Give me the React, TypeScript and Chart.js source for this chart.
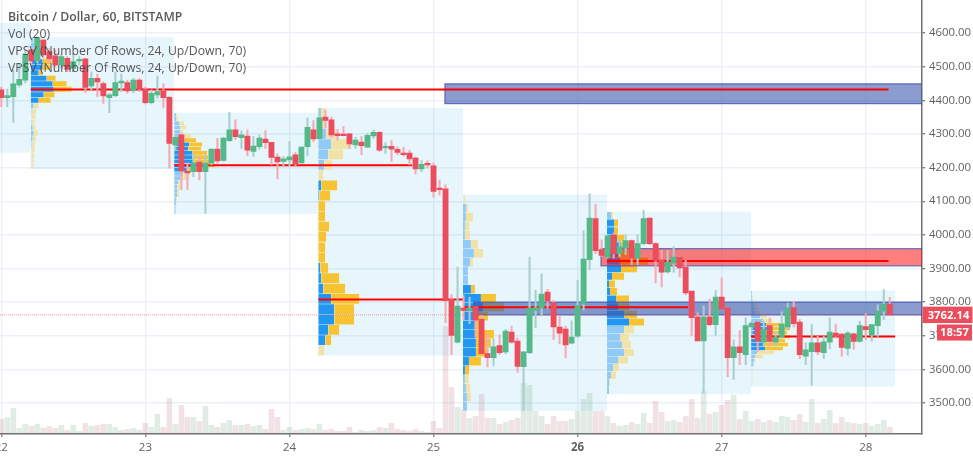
import React, { useEffect, useRef } from "react";
import { Chart, registerables } from "chart.js";

Chart.register(...registerables);

const opens = [
  4431, 4408, 4411, 4446, 4460, 4550, 4517, 4579, 4545, 4532,
  4505, 4525, 4495, 4517, 4523, 4443, 4465, 4450, 4408, 4414,
  4452, 4453, 4429, 4460, 4433, 4393, 4416, 4428, 4409, 4267,
  4297, 4189, 4188, 4216, 4188, 4213, 4255, 4221, 4280, 4312,
  4289, 4294, 4248, 4262, 4285, 4275, 4231, 4218, 4223, 4238,
  4214, 4262, 4312, 4286, 4350, 4342, 4300, 4297, 4300, 4267,
  4276, 4261, 4294, 4305, 4259, 4263, 4254, 4243, 4243, 4228,
  4196, 4211, 4205, 4139, 4137, 3808, 3681, 3782, 3775, 3787,
  3749, 3647, 3635, 3671, 3652, 3711, 3684, 3608, 3650, 3775,
  3783, 3830, 3798, 3726, 3720, 3678, 3699, 3795, 3926, 4048,
  3956, 3934, 4000, 3944, 3961, 3983, 3931, 3974, 4050, 3974,
  3926, 3890, 3916, 3934, 3904, 3833, 3756, 3685, 3756, 3733,
  3815, 3783, 3635, 3667, 3644, 3726, 3741, 3681, 3730, 3681,
  3696, 3726, 3784, 3741, 3639, 3653, 3679, 3650, 3681, 3708,
  3705, 3662, 3706, 3683, 3727, 3702, 3730, 3773, 3794,
];
const closes = [
  4408, 4414, 4449, 4462, 4537, 4517, 4586, 4535, 4523, 4505,
  4530, 4492, 4515, 4520, 4438, 4465, 4455, 4413, 4416, 4453,
  4457, 4428, 4460, 4433, 4393, 4421, 4426, 4408, 4272, 4290,
  4190, 4184, 4214, 4188, 4213, 4254, 4220, 4288, 4312, 4292,
  4297, 4252, 4264, 4288, 4274, 4230, 4217, 4226, 4232, 4211,
  4261, 4320, 4285, 4348, 4340, 4297, 4295, 4295, 4270, 4282,
  4265, 4296, 4305, 4252, 4263, 4255, 4245, 4238, 4226, 4196,
  4210, 4208, 4129, 4134, 3804, 3701, 3788, 3775, 3783, 3746,
  3647, 3635, 3667, 3650, 3714, 3681, 3609, 3652, 3782, 3783,
  3824, 3803, 3726, 3708, 3673, 3696, 3790, 3928, 4050, 3953,
  3939, 3997, 3944, 3964, 3983, 3931, 3974, 4048, 3974, 3924,
  3889, 3919, 3934, 3902, 3827, 3754, 3685, 3756, 3733, 3815,
  3780, 3635, 3667, 3650, 3730, 3738, 3684, 3720, 3683, 3696,
  3735, 3783, 3736, 3644, 3658, 3679, 3652, 3682, 3711, 3698,
  3665, 3708, 3683, 3730, 3718, 3733, 3773, 3794, 3762.14,
];
const highs = [
  4439, 4433, 4490, 4510, 4550, 4554, 4589, 4581, 4554, 4550,
  4535, 4530, 4535, 4530, 4525, 4485, 4478, 4455, 4421, 4485,
  4478, 4460, 4465, 4465, 4439, 4431, 4472, 4449, 4411, 4297,
  4302, 4213, 4243, 4233, 4238, 4257, 4287, 4290, 4364, 4342,
  4309, 4312, 4292, 4297, 4310, 4275, 4241, 4233, 4277, 4245,
  4261, 4347, 4340, 4376, 4371, 4350, 4314, 4322, 4302, 4290,
  4292, 4302, 4312, 4307, 4274, 4280, 4262, 4260, 4251, 4231,
  4221, 4220, 4213, 4163, 4149, 3822, 3904, 3820, 3815, 3787,
  3761, 3703, 3691, 3703, 3719, 3729, 3693, 3652, 3934, 3835,
  3884, 3838, 3805, 3759, 3729, 3744, 3865, 4012, 4122, 4091,
  3985, 4000, 4005, 3985, 4000, 3985, 4000, 4073, 4050, 3976,
  3954, 3954, 3964, 3936, 3924, 3833, 3768, 3789, 3809, 3834,
  3872, 3783, 3688, 3716, 3753, 3743, 3743, 3743, 3753, 3713,
  3771, 3797, 3802, 3748, 3679, 3733, 3698, 3698, 3753, 3735,
  3706, 3713, 3708, 3743, 3766, 3733, 3792, 3837, 3814,
];
const lows = [
  4381, 4381, 4334, 4439, 4452, 4505, 4510, 4525, 4512, 4500,
  4495, 4485, 4485, 4505, 4423, 4431, 4411, 4391, 4363, 4411,
  4426, 4421, 4423, 4426, 4389, 4389, 4406, 4379, 4198, 4252,
  4134, 4134, 4173, 4163, 4064, 4208, 4213, 4218, 4277, 4284,
  4257, 4235, 4233, 4254, 4257, 4208, 4166, 4206, 4205, 4203,
  4213, 4235, 4277, 4282, 4317, 4290, 4282, 4294, 4257, 4257,
  4238, 4260, 4287, 4248, 4241, 4218, 4238, 4235, 4208, 4181,
  4188, 4198, 4112, 4119, 3738, 3644, 3679, 3746, 3736, 3696,
  3647, 3607, 3610, 3644, 3647, 3678, 3592, 3478, 3647, 3724,
  3759, 3782, 3688, 3676, 3635, 3676, 3696, 3777, 3896, 3944,
  3936, 3931, 3931, 3936, 3941, 3911, 3911, 3971, 3971, 3857,
  3845, 3886, 3888, 3875, 3822, 3701, 3684, 3530, 3730, 3701,
  3780, 3578, 3570, 3614, 3614, 3708, 3654, 3669, 3669, 3669,
  3693, 3718, 3726, 3632, 3614, 3552, 3644, 3632, 3661, 3693,
  3639, 3642, 3659, 3681, 3688, 3684, 3698, 3748, 3760,
];
const volumes = [
  43, 48, 76, 16, 28, 22, 28, 16, 22, 16,
  25, 10, 25, 7, 31, 22, 25, 28, 28, 19,
  10, 13, 16, 10, 31, 19, 58, 19, 106, 28,
  85, 49, 49, 37, 82, 25, 19, 31, 40, 25,
  25, 28, 22, 25, 13, 73, 49, 10, 19, 10,
  13, 16, 13, 28, 10, 13, 7, 7, 19, 4,
  10, 7, 10, 19, 16, 31, 13, 10, 7, 13,
  7, 4, 37, 16, 322, 139, 79, 72, 46, 52,
  118, 46, 46, 28, 34, 40, 46, 151, 145, 67,
  52, 28, 52, 37, 37, 43, 67, 103, 121, 67,
  68, 51, 31, 22, 25, 34, 28, 61, 31, 97,
  64, 37, 40, 34, 52, 103, 46, 126, 58, 64,
  85, 100, 115, 43, 67, 37, 43, 34, 40, 34,
  52, 49, 40, 58, 34, 103, 31, 43, 70, 31,
  49, 34, 31, 28, 31, 22, 28, 40, 19,
];

// Session boxes: start hour, end hour, top price, bottom price
const boxStarts = [-1, 4.9, 28.8, 52.8, 76.9, 100.9, 124.9];
const boxEnds = [4.9, 28.8, 52.8, 76.9, 100.9, 124.9, 148.9];
const boxTops = [4630, 4588, 4363, 4377, 4119, 4069, 3834];
const boxBottoms = [4244, 4196, 4062, 3641, 3477, 3526, 3549];

// Volume profiles (24 rows, top to bottom)
const profileBoxes = [1, 2, 3, 4, 5, 6];
const profileUp = [
  [3, 4, 5, 6, 12, 12, 8, 16, 22, 23, 13, 8, 3, 1, 0.5, 1, 2, 3, 2, 1, 0.5, 0.5, 0.5, 0.5],
  [2, 2, 5, 6, 6, 8, 10, 15, 14, 18, 18, 20, 20, 14, 9, 6, 4, 3, 3, 3, 2, 2, 1.5, 1.5],
  [3, 3, 8, 13, 10, 6, 0, 3, 1, 0, 0, 0, 0, 0, 0, 2, 3, 5, 13, 16, 16, 10, 7, 0],
  [0.5, 3, 3, 2, 2, 8, 11, 7, 5, 5, 8, 18, 20, 14, 12, 13, 13, 13, 6, 2, 2, 3, 4, 4],
  [4, 7, 7, 10, 14, 11, 13, 14, 5, 2, 3, 9, 11, 17, 22, 17, 13, 15, 17, 11, 6, 4, 2, 2],
  [1, 1, 1.5, 2.5, 3, 4, 9, 12, 15, 17, 11, 14, 12, 12, 14, 6, 4, 3, 2.5, 0.5, 0.5, 0.5, 0.5, 0.5],
];
const profileDown = [
  [2, 3, 4, 5, 9, 8, 4, 9, 14, 18, 11, 12, 5, 4.5, 4.5, 3, 3, 4.5, 3.5, 3.5, 3.5, 3, 2.5, 2.5],
  [1, 2, 5, 6, 3, 9, 12, 13, 13, 15, 16, 17, 21, 10, 7, 9, 4, 4, 2, 2, 1, 0.5, 0.5, 0],
  [4, 4, 10, 20, 15, 8, 5, 16, 11, 7, 7, 11, 8, 7, 7, 8, 18, 22, 28, 20, 20, 11, 6, 6],
  [1.5, 2, 7, 4.5, 5, 7, 9, 3, 0, 0, 4, 15, 21, 11, 8, 18, 15, 11, 12, 4.5, 4, 4.5, 4, 0],
  [2, 4, 4, 7, 8, 10, 28, 16, 12, 6, 7, 13, 11, 13, 15, 10, 9, 9, 10, 10, 6, 5, 1, 0],
  [0, 1, 1, 3, 4, 5, 7, 10, 18, 22, 25, 25, 22, 25, 18, 17, 8, 1.5, 1, 1, 1, 1, 1, 1],
];
const valueAreaFirst = [4, 6, 7, 10, 1, 8];
const valueAreaLast = [11, 13, 22, 19, 14, 14];

// Point-of-control lines
const pocPrices = [4432, 4207, 3808, 3785, 3922, 3698];
const pocStarts = [4.9, 28.8, 52.8, 76.9, 100.9, 124.9];
const pocEnds = [147.8, 68.4, 76.9, 114.4, 147.8, 148.9];

// Drawn zones
const zoneStarts = [73.9, 78.7, 99.9];
const zoneTops = [4449, 3800, 3959];
const zoneBottoms = [4390, 3762, 3908];
const zoneFills = ["rgba(55,85,170,0.58)", "rgba(55,85,170,0.58)", "rgba(255,0,0,0.5)"];

const dayHours = [0, 24, 48, 72, 96, 120, 144];
const dayLabels = ["22", "23", "24", "25", "26", "27", "28"];
const boldDay = "26";
const legendLines = [
  "Bitcoin / Dollar, 60, BITSTAMP",
  "Vol (20)",
  "VPSV (Number Of Rows, 24, Up/Down, 70)",
  "VPSV (Number Of Rows, 24, Up/Down, 70)",
];
const lastPrice = 3762.14;
const countdown = "18:57";

const FONT = '"Open Sans", sans-serif';
const X_MIN = -0.217;
const X_MAX = 153.37;
const UP = "#53b987";
const DOWN = "#eb4d5c";
const HOURS_PER_UNIT = 1 / 6.003;

const rect = (x0: number, x1: number, hi: number, lo: number, color: string) => ({
  type: "line",
  data: [{ x: x0, y: hi }, { x: x1, y: hi }],
  fill: { value: lo },
  backgroundColor: color,
  borderWidth: 0,
  borderColor: "transparent",
  pointRadius: 0,
  yAxisID: "y",
});
const path = (pts: { x: number; y: number }[], color: string, width: number, dash?: number[]) => ({
  type: "line",
  data: pts,
  fill: false,
  borderColor: color,
  borderWidth: width,
  borderDash: dash || [],
  pointRadius: 0,
  yAxisID: "y",
});

function buildDatasets() {
  const layers: any[] = [];
  boxStarts.forEach((s, i) => layers.push(rect(s, boxEnds[i], boxTops[i], boxBottoms[i], "rgba(40,160,225,0.11)")));
  const idx = opens.map((_, i) => i);
  layers.push({
    type: "bar",
    yAxisID: "vol",
    data: idx.map((h) => ({ x: h, y: volumes[h] })),
    backgroundColor: idx.map((h) => (closes[h] >= opens[h] ? "rgba(107,165,120,0.2)" : "rgba(178,100,112,0.18)")),
    barThickness: 5,
    grouped: false,
  });
  profileBoxes.forEach((b, p) => {
    const top = boxTops[b];
    const rowH = (boxTops[b] - boxBottoms[b]) / 24;
    profileUp[p].forEach((u, r) => {
      const d = profileDown[p][r];
      const bright = r >= valueAreaFirst[p] && r <= valueAreaLast[p];
      const hi = top - rowH * r - 0.8;
      const lo = top - rowH * (r + 1) + 0.8;
      const x0 = boxStarts[b];
      const xu = x0 + u * HOURS_PER_UNIT;
      const xd = xu + d * HOURS_PER_UNIT;
      if (u > 0) layers.push(rect(x0, xu, hi, lo, bright ? "#2196f3" : "#90caf9"));
      if (d > 0) layers.push(rect(xu, xd, hi, lo, bright ? "#f8c330" : "#f1e2a6"));
    });
  });
  zoneStarts.forEach((s, i) => {
    layers.push(rect(s, X_MAX, zoneTops[i], zoneBottoms[i], zoneFills[i]));
    layers.push(
      path(
        [
          { x: X_MAX, y: zoneTops[i] },
          { x: s, y: zoneTops[i] },
          { x: s, y: zoneBottoms[i] },
          { x: X_MAX, y: zoneBottoms[i] },
        ],
        "rgba(63,81,181,0.75)",
        1.3,
      ),
    );
  });
  pocPrices.forEach((p, i) =>
    layers.push(path([{ x: pocStarts[i], y: p }, { x: pocEnds[i], y: p }], "#ff0000", 2)),
  );
  layers.push(path([{ x: X_MIN, y: lastPrice }, { x: X_MAX, y: lastPrice }], "rgba(235,77,92,0.55)", 1, [1, 1]));
  layers.push({
    type: "bar",
    yAxisID: "y",
    data: idx.map((h) => ({ x: h, y: [lows[h], highs[h]] })),
    backgroundColor: idx.map((h) => (closes[h] >= opens[h] ? "#a8cfd0" : "#f6a9b2")),
    barThickness: 1.4,
    grouped: false,
  });
  layers.push({
    type: "bar",
    yAxisID: "y",
    data: idx.map((h) => ({ x: h, y: [opens[h], closes[h]] })),
    backgroundColor: idx.map((h) => (closes[h] >= opens[h] ? UP : DOWN)),
    barThickness: 5.2,
    grouped: false,
    minBarLength: 1.5,
  });
  return layers.reverse();
}

const overlayPlugin = {
  id: "overlayText",
  afterDraw(chart: any) {
    const { ctx, scales } = chart;
    ctx.save();
    ctx.textAlign = "left";
    ctx.textBaseline = "alphabetic";
    legendLines.forEach((line, i) => {
      ctx.font = `${i === 0 ? "600" : "400"} 12.25px ${FONT}`;
      ctx.fillStyle = "rgba(74,74,74,0.92)";
      ctx.fillText(line, 8, 20.5 + i * 17.1);
    });
    const yMid = scales.y.getPixelForValue(lastPrice);
    ctx.fillStyle = DOWN;
    ctx.fillRect(922.5, yMid - 8.2, 50, 16.4);
    ctx.fillRect(937, yMid + 9.7, 35, 16);
    ctx.fillStyle = "#fff";
    ctx.font = `700 11.2px ${FONT}`;
    ctx.textAlign = "center";
    ctx.textBaseline = "middle";
    ctx.fillText(lastPrice.toFixed(2), 948.5, yMid + 0.5);
    ctx.fillText(countdown, 954.5, yMid + 18);
    ctx.restore();
  },
};

export default function App() {
  const ref = useRef<HTMLCanvasElement | null>(null);
  useEffect(() => {
    const chart = new Chart(ref.current as HTMLCanvasElement, {
      data: { datasets: buildDatasets() as any },
      plugins: [overlayPlugin],
      options: {
        animation: false,
        responsive: false,
        events: [],
        layout: { padding: 0 },
        plugins: { legend: { display: false }, tooltip: { enabled: false } },
        scales: {
          x: {
            type: "linear",
            min: X_MIN,
            max: X_MAX,
            offset: false,
            afterBuildTicks: (s: any) => {
              s.ticks = dayHours.map((v) => ({ value: v }));
            },
            afterFit: (s: any) => {
              s.height = 25.3;
              s.paddingLeft = 0;
              s.paddingRight = 0;
            },
            grid: { offset: false, color: "#edf1f7", lineWidth: 1.4, tickColor: "#777", tickLength: 3 },
            border: { color: "#707070", width: 1.5 },
            ticks: {
              autoSkip: false,
              maxRotation: 0,
              padding: 4,
              color: "#5f5f5f",
              font: (c: any) => ({
                family: FONT,
                size: 11.5,
                weight: dayLabels[dayHours.indexOf(c.tick?.value)] === boldDay ? "bold" : "normal",
              }),
              callback: (v: any) => dayLabels[dayHours.indexOf(v)] ?? "",
            },
          },
          y: {
            type: "linear",
            position: "right",
            min: 3408.8,
            max: 4698.2,
            afterFit: (s: any) => {
              s.width = 51;
              s.paddingTop = 0;
              s.paddingBottom = 0;
            },
            grid: { color: "#edf1f7", lineWidth: 1.4, tickColor: "#777", tickLength: 3 },
            border: { color: "#707070", width: 1.5 },
            ticks: {
              stepSize: 100,
              includeBounds: false,
              padding: 4,
              color: "#5f5f5f",
              font: { family: FONT, size: 11.4 },
              callback: (v: any) => Number(v).toFixed(2),
            },
          },
          vol: { type: "linear", display: false, min: 0, max: 1301 },
        },
      } as any,
    });
    return () => chart.destroy();
  }, []);
  return (
    <div style={{ position: "fixed", left: 0, top: 0, width: 973, height: 459, background: "#fff" }}>
      <canvas ref={ref} width={973} height={459} style={{ display: "block" }} />
    </div>
  );
}
